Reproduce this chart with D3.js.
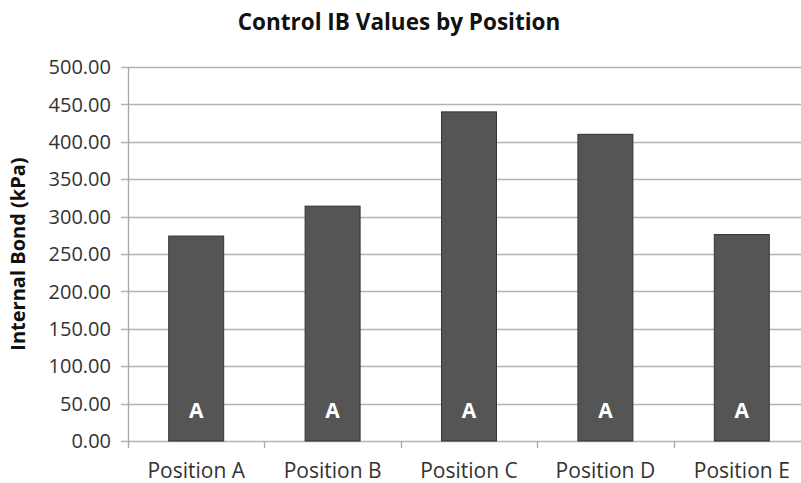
<!DOCTYPE html>
<html><head><meta charset="utf-8">
<script src="https://cdn.jsdelivr.net/npm/d3@7"></script>
<style>body{margin:0;background:#fff}svg{display:block}</style>
</head><body><svg id="c" width="801" height="483"></svg>
<script>
const categories = ["Position A","Position B","Position C","Position D","Position E"];
const values = [274, 314, 440, 410, 276];
const groupLabels = ["A","A","A","A","A"];
const yTicks = [0,50,100,150,200,250,300,350,400,450,500];

(function(){
const svg = d3.select("#c");
const font = "'Open Sans', sans-serif";
const mLeft = 128, mRight = 810, mTop = 67, mBottom = 441;
const x = d3.scaleBand().domain(categories).range([mLeft, mRight]).padding(0);
const y = d3.scaleLinear().domain([0,500]).range([mBottom, mTop]);

// gridlines
svg.append("g").selectAll("line").data(yTicks).join("line")
  .attr("x1", mLeft-7).attr("x2", 801)
  .attr("y1", d=>Math.round(y(d))+0.5).attr("y2", d=>Math.round(y(d))+0.5)
  .attr("stroke", "#b4b4b4").attr("stroke-width", 1.3);

// y axis line
svg.append("line").attr("x1", mLeft+0.5).attr("x2", mLeft+0.5).attr("y1", mTop).attr("y2", mBottom)
  .attr("stroke", "#a8a8a8").attr("stroke-width", 1.3);

// x tick marks at category boundaries
const bounds = categories.map(c => x(c)).concat([x(categories[categories.length-1]) + x.bandwidth()]);
svg.append("g").selectAll("line").data(bounds).join("line")
  .attr("x1", d=>Math.round(d)+0.5).attr("x2", d=>Math.round(d)+0.5)
  .attr("y1", mBottom).attr("y2", mBottom+7)
  .attr("stroke", "#a8a8a8").attr("stroke-width", 1.3);

// y tick labels
svg.append("g").selectAll("text").data(yTicks).join("text")
  .attr("x", 111).attr("y", d=>y(d)).attr("dy", "0.36em")
  .attr("text-anchor", "end").attr("font-family", font).attr("font-size", 20)
  .attr("fill", "#333").text(d=>d3.format(".2f")(d));

// bars
const bw = x.bandwidth()*0.403;
svg.append("g").selectAll("rect").data(values).join("rect")
  .attr("x", (d,i)=>x(categories[i]) + x.bandwidth()/2 - bw/2)
  .attr("width", bw)
  .attr("y", d=>y(d)).attr("height", d=>mBottom - y(d))
  .attr("fill", "#555555").attr("stroke", "#333").attr("stroke-width", 1);

// letters in bars
svg.append("g").selectAll("text").data(groupLabels).join("text")
  .attr("x", (d,i)=>x(categories[i]) + x.bandwidth()/2)
  .attr("y", 418).attr("text-anchor", "middle")
  .attr("font-family", font).attr("font-weight", "bold").attr("font-size", 21)
  .attr("fill", "#fff").text(d=>d);

// x labels
svg.append("g").selectAll("text").data(categories).join("text")
  .attr("x", d=>x(d) + x.bandwidth()/2).attr("y", 478).attr("text-anchor", "middle")
  .attr("font-family", font).attr("font-size", 21).attr("fill", "#333").text(d=>d);

// title
svg.append("text").attr("x", 399).attr("y", 30).attr("text-anchor", "middle")
  .attr("font-family", font).attr("font-weight", "bold").attr("font-size", 22.5)
  .attr("fill", "#111").text("Control IB Values by Position");

// y axis title
svg.append("text").attr("transform", "translate(25,254) rotate(-90)").attr("text-anchor", "middle")
  .attr("font-family", font).attr("font-weight", "bold").attr("font-size", 20)
  .attr("fill", "#111").text("Internal Bond (kPa)");
})();
</script></body></html>
